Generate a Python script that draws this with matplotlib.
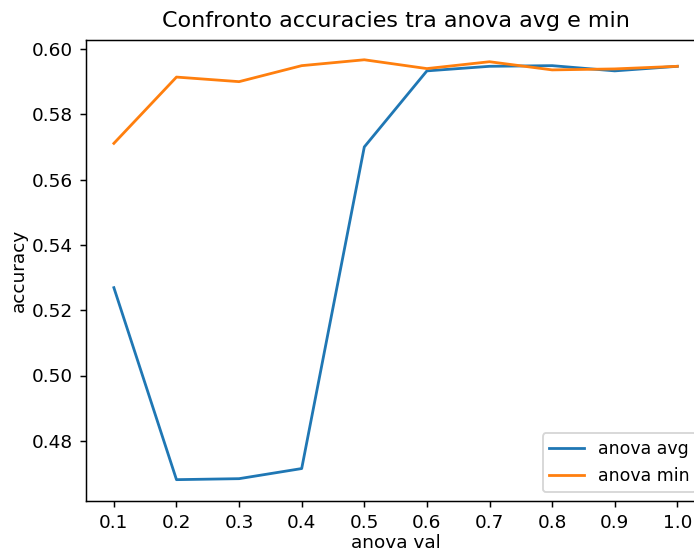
import matplotlib
matplotlib.use("Agg")
import matplotlib.pyplot as plt

anova_vals = [0.1, 0.2, 0.3, 0.4, 0.5, 0.6, 0.7, 0.8, 0.9, 1.0]
acc_avg = [0.5269, 0.4681, 0.4684, 0.4715, 0.5700, 0.5933, 0.5947, 0.5949, 0.5933, 0.5947]
acc_min = [0.5711, 0.5914, 0.5900, 0.5949, 0.5967, 0.5940, 0.5961, 0.5936, 0.5939, 0.5947]
x_ticks = [0.1, 0.2, 0.3, 0.4, 0.5, 0.6, 0.7, 0.8, 0.9, 1.0]

DPI = 400 / 3
W, H = 694, 553
fig = plt.figure(figsize=(W / DPI, H / DPI), dpi=DPI)
ax = fig.add_axes([85.7 / W, (H - 500.7) / H, 619.8 / W, 460.7 / H])

ax.plot(anova_vals, acc_avg, label="anova avg")
ax.plot(anova_vals, acc_min, label="anova min")
ax.set_xticks(x_ticks)
ax.set_ylim(0.60 - 451.7 / 3265, 0.60 + 9 / 3265)
ax.set_title("Confronto accuracies tra anova avg e min", pad=7)
ax.set_xlabel("anova val", labelpad=1.5)
ax.set_ylabel("accuracy", labelpad=2)
ax.legend(loc="lower right", fontsize=9.4)

fig.savefig("out.png", dpi=DPI)
